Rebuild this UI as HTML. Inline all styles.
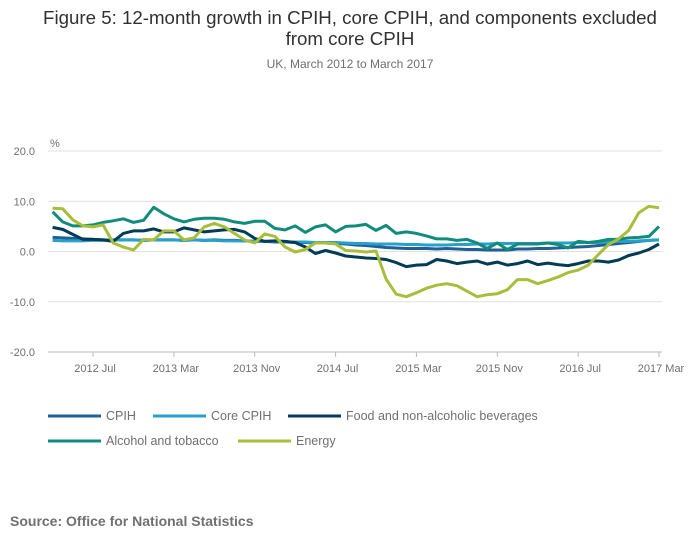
<!DOCTYPE html>
<html><head><meta charset="utf-8"><style>
body{margin:0;background:#fff;width:700px;height:549px;overflow:hidden;font-family:"Liberation Sans",sans-serif}
</style></head><body>
<svg width="700" height="549" xmlns="http://www.w3.org/2000/svg" id="chart" font-family="Liberation Sans, sans-serif">
<text x="350" y="24" text-anchor="middle" font-size="18.7" fill="#323132">Figure 5: 12-month growth in CPIH, core CPIH, and components excluded</text>
<text x="350" y="45" text-anchor="middle" font-size="18.7" fill="#323132">from core CPIH</text>
<text x="350" y="68" text-anchor="middle" font-size="12" fill="#707071">UK, March 2012 to March 2017</text>
<text x="50" y="147" font-size="11" fill="#707071">%</text>
<g id="grid"></g><g id="lines"></g><g id="xaxis"></g>
<g font-size="12.5" fill="#707071">
<line x1="48" y1="416" x2="101" y2="416" stroke="#206095" stroke-width="3"/><text x="106" y="420">CPIH</text>
<line x1="153" y1="416" x2="206" y2="416" stroke="#27a0cc" stroke-width="3"/><text x="211" y="420">Core CPIH</text>
<line x1="288" y1="416" x2="341" y2="416" stroke="#003c57" stroke-width="3"/><text x="346" y="420">Food and non-alcoholic beverages</text>
<line x1="48" y1="441" x2="101" y2="441" stroke="#118c7b" stroke-width="3"/><text x="106" y="445">Alcohol and tobacco</text>
<line x1="238" y1="441" x2="291" y2="441" stroke="#a8bd3a" stroke-width="3"/><text x="296" y="445">Energy</text>
</g>
<text x="10" y="526" font-size="14" font-weight="bold" fill="#707071">Source: Office for National Statistics</text>
</svg>
<script>
const yTicks=[20,10,0,-10,-20];
const yTickLabels=["20.0","10.0","0.0","-10.0","-20.0"];
const xTickIdx=[4,12,20,28,36,44,52,60];
const xTickLabels=["2012 Jul","2013 Mar","2013 Nov","2014 Jul","2015 Mar","2015 Nov","2016 Jul","2017 Mar"];
const cpih=[2.8,2.7,2.6,2.5,2.4,2.3,2.3,2.3,2.3,2.2,2.3,2.3,2.3,2.2,2.3,2.2,2.3,2.2,2.2,2.1,2.0,2.0,1.9,1.9,1.8,1.8,1.7,1.7,1.6,1.5,1.3,1.2,1.0,0.8,0.7,0.6,0.6,0.6,0.5,0.6,0.5,0.4,0.4,0.3,0.3,0.3,0.5,0.5,0.6,0.6,0.7,0.8,0.9,1.0,1.2,1.4,1.6,1.8,2.0,2.2,2.3];
const core=[2.2,2.1,2.1,2.1,2.2,2.2,2.3,2.3,2.3,2.2,2.3,2.3,2.3,2.2,2.3,2.2,2.2,2.1,2.1,2.1,2.0,2.0,2.0,1.9,1.9,1.9,1.8,1.8,1.8,1.7,1.6,1.6,1.5,1.5,1.5,1.4,1.4,1.3,1.3,1.3,1.4,1.4,1.5,1.5,1.6,1.6,1.6,1.6,1.6,1.7,1.7,1.7,1.8,1.8,1.8,1.9,2.0,2.0,2.1,2.2,2.3];
const food=[4.8,4.4,3.4,2.4,2.4,2.3,2.0,3.6,4.1,4.1,4.5,3.9,3.9,4.7,4.3,3.9,4.1,4.3,4.4,3.9,2.6,2.0,2.1,2.0,1.8,0.9,-0.4,0.2,-0.3,-0.9,-1.1,-1.3,-1.4,-1.6,-2.2,-3.0,-2.7,-2.6,-1.6,-1.9,-2.4,-2.1,-1.9,-2.5,-2.1,-2.7,-2.4,-1.9,-2.6,-2.3,-2.6,-2.8,-2.4,-1.9,-1.9,-2.1,-1.7,-0.8,-0.3,0.4,1.5];
const alcohol=[7.9,5.9,5.1,5.1,5.3,5.8,6.1,6.5,5.8,6.2,8.8,7.5,6.5,5.9,6.4,6.6,6.6,6.4,5.9,5.6,6.0,6.0,4.6,4.3,5.1,3.8,4.9,5.3,3.9,5.0,5.1,5.4,4.2,5.2,3.6,3.9,3.6,3.1,2.5,2.5,2.2,2.4,1.7,0.6,1.7,0.4,1.5,1.5,1.5,1.7,1.4,0.7,2.0,1.8,2.0,2.4,2.4,2.7,2.8,3.0,5.0];
const energy=[8.6,8.5,6.3,5.1,4.9,5.3,1.7,0.9,0.3,2.4,2.3,4.1,4.1,2.3,2.7,4.9,5.6,4.9,3.6,2.3,1.7,3.5,3.0,0.9,-0.1,0.4,1.7,1.7,1.5,0.2,0.1,-0.1,0.1,-5.5,-8.5,-9.0,-8.2,-7.3,-6.7,-6.4,-6.8,-7.9,-9.0,-8.6,-8.4,-7.6,-5.6,-5.6,-6.4,-5.8,-5.1,-4.2,-3.7,-2.7,-0.6,1.4,2.5,4.2,7.7,9.0,8.7];
const series=[["cpih",cpih,"#206095"],["core-cpih",core,"#27a0cc"],["food",food,"#003c57"],["alcohol",alcohol,"#118c7b"],["energy",energy,"#a8bd3a"]];
const NS="http://www.w3.org/2000/svg";
function xs(i){return 52.6+i*(659-52.6)/60;}
function ys(v){return 251.5-v*5.025;}
const grid=document.getElementById('grid');
yTicks.forEach((t,k)=>{
 const l=document.createElementNS(NS,'line');
 l.setAttribute('x1',48);l.setAttribute('x2',662);l.setAttribute('y1',ys(t));l.setAttribute('y2',ys(t));
 l.setAttribute('stroke',t===-20?'#bbb':'#e0e0e0');l.setAttribute('stroke-width',1);
 
 
 grid.appendChild(l);
 const tx=document.createElementNS(NS,'text');
 tx.setAttribute('x',35);tx.setAttribute('y',ys(t)+4);tx.setAttribute('text-anchor','end');
 tx.setAttribute('font-size',11);tx.setAttribute('fill','#707071');tx.textContent=yTickLabels[k];
 
 
 grid.appendChild(tx);
});
const xa=document.getElementById('xaxis');
xTickIdx.forEach((i,k)=>{
 const l=document.createElementNS(NS,'line');
 l.setAttribute('x1',xs(i));l.setAttribute('x2',xs(i));l.setAttribute('y1',352);l.setAttribute('y2',357);
 l.setAttribute('stroke','#bbb');
 
 
 xa.appendChild(l);
 const tx=document.createElementNS(NS,'text');
 tx.setAttribute('x',xs(i)+2);tx.setAttribute('y',372);tx.setAttribute('text-anchor','middle');
 tx.setAttribute('font-size',11);tx.setAttribute('fill','#707071');tx.textContent=xTickLabels[k];
 
 
 xa.appendChild(tx);
});
const lg=document.getElementById('lines');
series.forEach(([n,d,c])=>{
 const p=document.createElementNS(NS,'polyline');
 p.setAttribute('points',d.map((v,i)=>xs(i).toFixed(1)+','+ys(v).toFixed(1)).join(' '));
 p.setAttribute('fill','none');p.setAttribute('stroke',c);p.setAttribute('stroke-width',3);p.setAttribute('stroke-linejoin','round');
 
 
 lg.appendChild(p);
});
</script>
</body></html>
